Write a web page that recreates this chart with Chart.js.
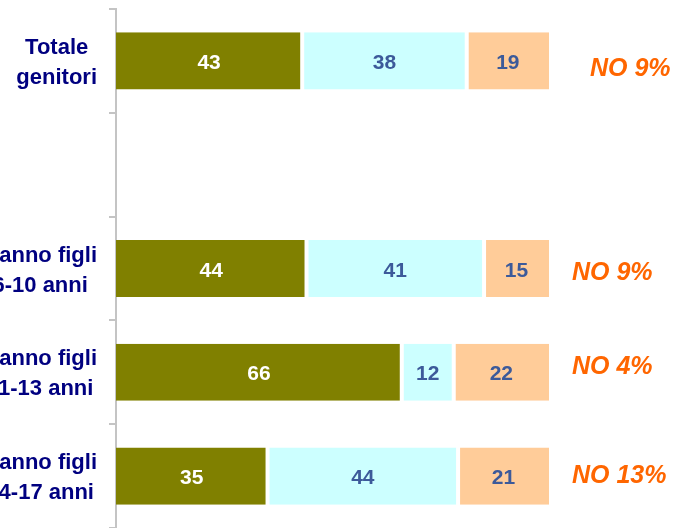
<!DOCTYPE html>
<html>
<head>
<meta charset="utf-8">
<script src="https://cdn.jsdelivr.net/npm/chart.js@4"></script>
<style>
  html, body { margin: 0; padding: 0; background: #fff; overflow: hidden; }
  body { width: 678px; height: 528px; position: relative; }
  /* canvas pushed left so the start of the long labels is cut off, as in the original */
  #wrap { position: absolute; left: -40px; top: 0; width: 718px; height: 528px; }
</style>
</head>
<body>
<div id="wrap"><canvas id="chart"></canvas></div>
<script>
// ---- data ----
const categories = [
  ['Totale', 'genitori'],
  [],
  ['Hanno figli', '6-10 anni'],
  ['Hanno figli', '11-13 anni'],
  ['Hanno figli', '14-17 anni']
];
const serieA = [43, null, 44, 66, 35];
const serieB = [38, null, 41, 12, 44];
const serieC = [19, null, 15, 22, 21];
const noValues = [9, null, 9, 4, 13];

const FONT = "'Liberation Sans', Arial, sans-serif";

// category labels: block right-aligned, lines centred inside the block
const catLabels = {
  id: 'catLabels',
  afterDraw(chart) {
    const { ctx } = chart;
    const y = chart.scales.y;
    const right = chart.chartArea.left - 19;
    ctx.save();
    ctx.font = 'bold 22px ' + FONT;
    ctx.fillStyle = '#000080';
    ctx.textAlign = 'center';
    ctx.textBaseline = 'alphabetic';
    categories.forEach((lines, i) => {
      if (!lines.length) return;
      const w = Math.max(...lines.map(l => ctx.measureText(l).width));
      const cx = right - w / 2;
      const cy = y.getPixelForValue(i);
      lines.forEach((l, k) => {
        ctx.fillText(l, cx, cy - (lines.length - 1) * 15 + k * 30 + 8);
      });
    });
    ctx.restore();
  }
};

// value labels in the bars + the "NO x%" notes on the right
const valueLabels = {
  id: 'valueLabels',
  afterDatasetsDraw(chart, args, opts) {
    const { ctx } = chart;
    ctx.save();
    ctx.textAlign = 'center';
    ctx.textBaseline = 'alphabetic';
    ctx.font = 'bold 21px ' + FONT;
    chart.data.datasets.forEach((ds, di) => {
      const meta = chart.getDatasetMeta(di);
      ctx.fillStyle = opts.colors[di];
      meta.data.forEach((bar, i) => {
        const v = ds.data[i];
        if (v == null) return;
        const { x, base, y } = bar.getProps(['x', 'base', 'y'], true);
        ctx.fillText(String(v), (x + base) / 2, y + 8);
      });
    });

    ctx.font = 'italic bold 25px ' + FONT;
    ctx.fillStyle = '#ff6600';
    ctx.textAlign = 'left';
    const ys = chart.scales.y;
    noValues.forEach((v, i) => {
      if (v == null) return;
      const n = opts.nudge[i] || [0, 0];
      ctx.fillText('NO ' + v + '%', chart.chartArea.right + 23 + n[0], ys.getPixelForValue(i) + 9 + n[1]);
    });
    ctx.restore();
  }
};

new Chart(document.getElementById('chart'), {
  type: 'bar',
  data: {
    labels: categories.map(c => c.join(' ')),
    datasets: [
      { data: serieA, backgroundColor: '#808000', borderColor: '#ffffff', borderWidth: { right: 2 }, borderSkipped: false },
      { data: serieB, backgroundColor: '#ccffff', borderColor: '#ffffff', borderWidth: { left: 2, right: 2 }, borderSkipped: false },
      { data: serieC, backgroundColor: '#ffcc99', borderColor: '#ffffff', borderWidth: { left: 2 }, borderSkipped: false }
    ]
  },
  options: {
    indexAxis: 'y',
    responsive: true,
    maintainAspectRatio: false,
    animation: false,
    events: [],
    categoryPercentage: 1,
    barPercentage: 0.55,
    layout: { padding: { top: 9, right: 129, bottom: 0, left: 0 } },
    plugins: {
      legend: { display: false },
      tooltip: { enabled: false },
      valueLabels: {
        colors: ['#ffffff', '#3c5a9a', '#3c5a9a'],
        nudge: [[18, 6], null, [0, 2], [0, -7], [0, -2]]
      }
    },
    scales: {
      x: { display: false, stacked: true, min: 0, max: 100 },
      y: {
        stacked: true,
        afterFit: s => { s.width = 156; },
        ticks: { display: false },
        grid: {
          offset: true,
          drawOnChartArea: false,
          drawTicks: true,
          tickLength: 7,
          color: '#c4c4c4',
          lineWidth: 2
        },
        border: { display: true, color: '#c4c4c4', width: 2 }
      }
    }
  },
  plugins: [catLabels, valueLabels]
});
</script>
</body>
</html>
